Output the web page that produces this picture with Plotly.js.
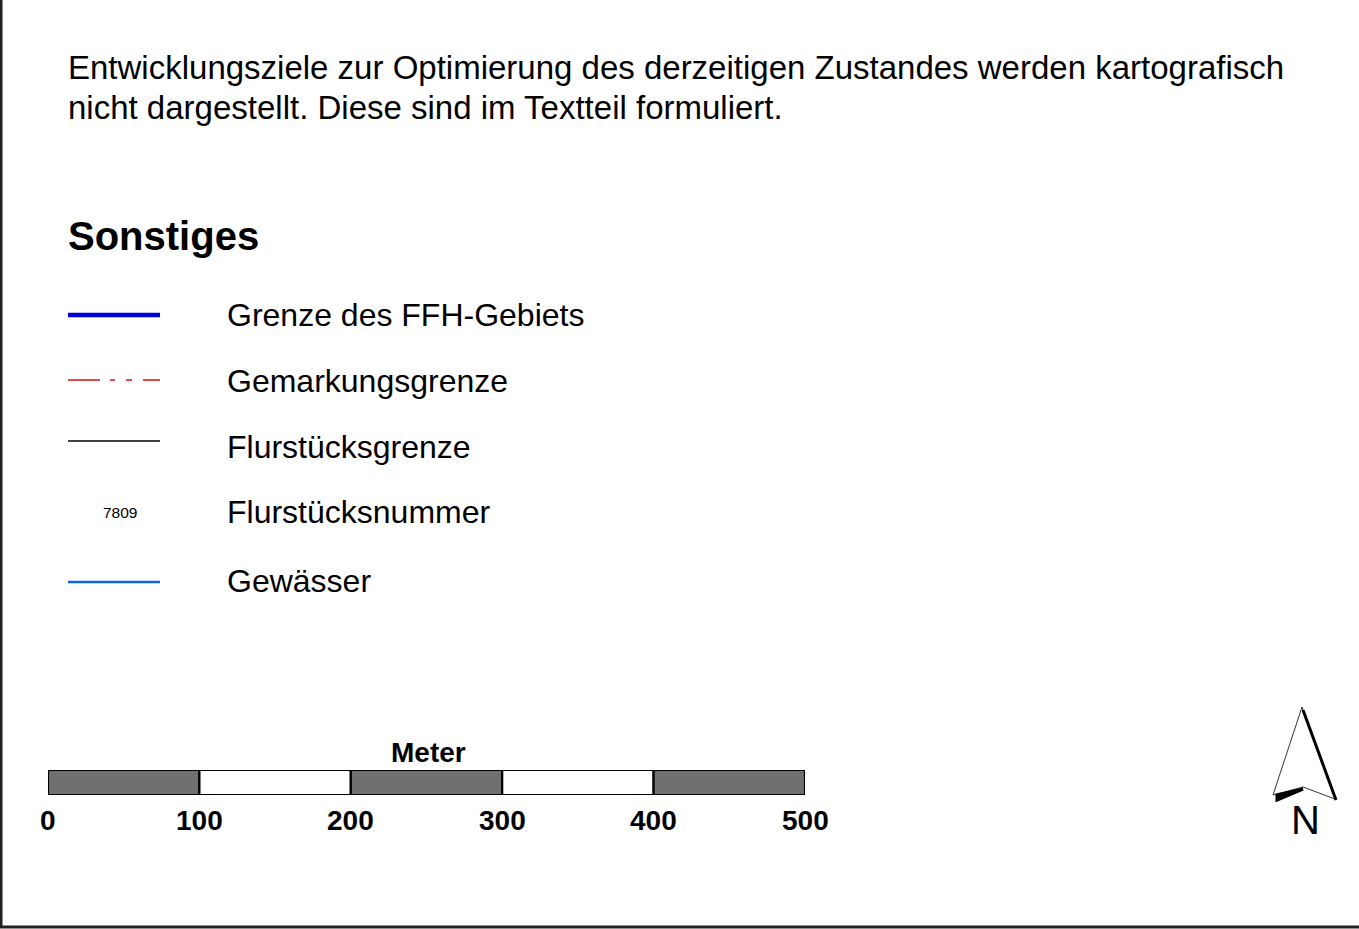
<!DOCTYPE html>
<html><head><meta charset="utf-8">
<script src="https://cdn.plot.ly/plotly-3.0.1.min.js"></script>
<style>html,body{margin:0;padding:0;background:#fff}#chart{width:1359px;height:929px}</style>
</head><body><div id="chart"></div>
<script>
// ---- data ----
const introLines = ["Entwicklungsziele zur Optimierung des derzeitigen Zustandes werden kartografisch",
                    "nicht dargestellt. Diese sind im Textteil formuliert."];
const sectionTitle = "Sonstiges";
const legendLabels = ["Grenze des FFH-Gebiets","Gemarkungsgrenze","Flurstücksgrenze","Flurstücksnummer","Gewässer"];
const legendKinds  = ["line","line","line","text","line"];
const legendColors = ["#0000d8","#d81010","#000000","#000000","#0a64f0"];
const legendWidths = [4.5,1.3,1.3,0,2.5];
const legendDash   = ["solid","32px,10px,5px,11px,6px,11px,17px","solid","solid","solid"];
const sampleNumber = "7809";
const scaleTicks = [0,100,200,300,400,500];
const scaleFill  = ["#707070","#ffffff","#707070","#ffffff","#707070"];
const scaleUnit = "Meter";
const northLabel = "N";

// ---- layout helpers (pixel overlay axis x2/y2) ----
const W = 1359, H = 929;
const FONT = "Arial, 'Liberation Sans', sans-serif";
const rowY = [315, 380, 441, 512, 582];
const labelY = [315, 381, 447, 512, 581];
const sampleX0 = 68, sampleX1 = 160, labelX = 225;

const traces = [];
// scale bar segments
traces.push({
  type:'bar', orientation:'h', xaxis:'x', yaxis:'y',
  y: scaleFill.map(()=>0),
  x: scaleFill.map((_,i)=>scaleTicks[i+1]-scaleTicks[i]),
  base: scaleTicks.slice(0,-1),
  width: 1,
  marker:{color:scaleFill, line:{color:'#000', width:2.2}},
  hoverinfo:'skip', showlegend:false
});
// legend sample lines
legendKinds.forEach((k,i)=>{
  if(k!=='line') return;
  traces.push({
    type:'scatter', mode:'lines', xaxis:'x2', yaxis:'y2',
    x:[sampleX0, sampleX1], y:[rowY[i], rowY[i]],
    line:{color:legendColors[i], width:legendWidths[i], dash:legendDash[i]},
    hoverinfo:'skip', showlegend:false
  });
});

const annotations = [];
introLines.forEach((t,i)=>annotations.push({xref:'x2',yref:'y2',x:66,y:67+i*40,xanchor:'left',yanchor:'middle',
  text:t,showarrow:false,font:{family:FONT,size:33,color:'#000'}}));
annotations.push({xref:'x2',yref:'y2',x:66,y:236,xanchor:'left',yanchor:'middle',text:'<b>'+sectionTitle+'</b>',
  showarrow:false,font:{family:FONT,size:40,color:'#000'}});
legendLabels.forEach((t,i)=>annotations.push({xref:'x2',yref:'y2',x:labelX,y:labelY[i],xanchor:'left',yanchor:'middle',
  text:t,showarrow:false,font:{family:FONT,size:32,color:'#000'}}));
legendKinds.forEach((k,i)=>{ if(k==='text') annotations.push({xref:'x2',yref:'y2',x:(sampleX0+sampleX1)/2+6,y:rowY[i],
  xanchor:'center',yanchor:'middle',text:sampleNumber,showarrow:false,font:{family:FONT,size:15.5,color:'#000'}}); });
scaleTicks.forEach(v=>annotations.push({xref:'x',yref:'y2',x:v,y:820,xanchor:'center',yanchor:'middle',
  text:'<b>'+v+'</b>',showarrow:false,font:{family:FONT,size:28,color:'#000'}}));
annotations.push({xref:'x',yref:'y2',x:251,y:752,xanchor:'center',yanchor:'middle',text:'<b>'+scaleUnit+'</b>',
  showarrow:false,font:{family:FONT,size:28,color:'#000'}});
annotations.push({xref:'x2',yref:'y2',x:1305,y:820,xanchor:'center',yanchor:'middle',text:northLabel,
  showarrow:false,font:{family:FONT,size:40,color:'#000'}});

const shapes = [
  // frame
  {type:'line',xref:'x2',yref:'y2',x0:1,x1:1,y0:0,y1:928,line:{color:'#222',width:3}},
  {type:'line',xref:'x2',yref:'y2',x0:0,x1:W,y0:927,y1:927,line:{color:'#222',width:3}},
  // north arrow outline
  {type:'path',xref:'x2',yref:'y2',path:'M1302,707 L1273,795 L1303,787 L1335,799 Z',
   fillcolor:'#fff',line:{color:'#000',width:0.8}},
  // shadow edges
  {type:'path',xref:'x2',yref:'y2',path:'M1303,710 L1336,800',line:{color:'#000',width:3}},
  {type:'path',xref:'x2',yref:'y2',path:'M1277,800 L1303,789 L1277,795 Z',fillcolor:'#000',line:{color:'#000',width:3}}
];

const layout = {
  width:W, height:H, margin:{l:0,r:0,t:0,b:0},
  paper_bgcolor:'#fff', plot_bgcolor:'rgba(0,0,0,0)', showlegend:false,
  xaxis:{domain:[48/W,805/W], range:[0,500], visible:false, fixedrange:true},
  yaxis:{domain:[1-795/H,1-770/H], range:[-0.5,0.5], visible:false, fixedrange:true},
  xaxis2:{domain:[0,1], range:[0,W], visible:false, anchor:'y2', fixedrange:true},
  yaxis2:{domain:[0,1], range:[H,0], visible:false, anchor:'x2', fixedrange:true},
  annotations, shapes
};
Plotly.newPlot('chart', traces, layout, {staticPlot:true, displayModeBar:false});
</script></body></html>
